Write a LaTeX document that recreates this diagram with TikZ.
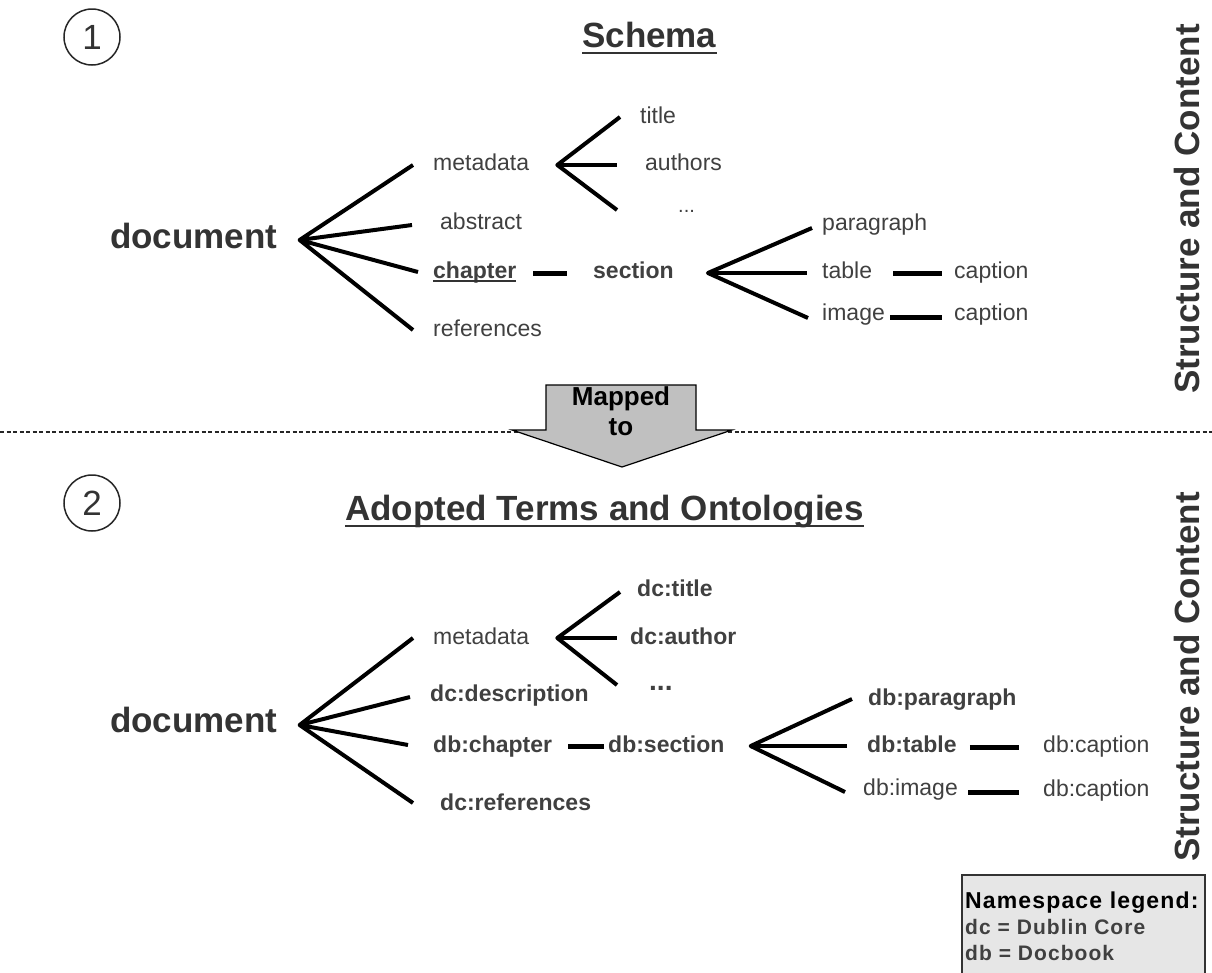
\documentclass[tikz,border=0pt]{standalone}
\usepackage{fontspec}
\setmainfont{Liberation Sans}
\newfontfamily\legendfont[LetterSpace=5]{Liberation Sans}
\usetikzlibrary{calc}
\definecolor{txt}{HTML}{404040}
\definecolor{dark}{HTML}{333333}
\definecolor{arrowgrey}{HTML}{C0C0C0}
\definecolor{legendfill}{HTML}{E6E6E6}

\begin{document}
\begin{tikzpicture}[x=1pt,y=-1pt,
  lbl/.style={font=\fontsize{23}{23}\selectfont, text=txt, inner sep=0pt, anchor=base west},
  blbl/.style={lbl, font=\fontsize{23}{23}\selectfont\bfseries},
  big/.style={font=\fontsize{35}{35}\selectfont\bfseries, text=dark, inner sep=0pt, anchor=base west},
  branch/.style={line width=4pt, black, line join=round},
  link/.style={line width=5pt, black},
  uline/.style={line width=1.8pt, dark},
  numcircle/.style={draw=black!85, line width=1.5pt, circle, minimum size=56pt, inner sep=0pt,
                    font=\fontsize{35}{35}\selectfont, text=dark},
  sidebar/.style={font=\fontsize{35}{35}\selectfont\bfseries, text=dark, rotate=90, inner sep=0pt},
  divider/.style={line width=2pt, black!85, dash pattern=on 4pt off 2.5pt},
  maparrow/.style={fill=arrowgrey, draw=black, line width=1.2pt, line join=miter},
  maptext/.style={font=\fontsize{26}{26}\selectfont\bfseries, text=black, inner sep=0pt, anchor=base},
  legendbox/.style={fill=legendfill, draw=dark, line width=1.5pt},
  leghead/.style={font=\legendfont\fontsize{23}{23}\selectfont\bfseries, text=black, inner sep=0pt, anchor=base west},
  legline/.style={font=\legendfont\fontsize{21}{21}\selectfont\bfseries, text=txt, inner sep=0pt, anchor=base west}
]
\useasboundingbox (0,0) rectangle (1212,972);

% ---------------- upper half: the schema ----------------
\node[numcircle] (n1) at (92,37) {1};
\node[big] (t1) at (582,47) {Schema};
\draw[uline] ([yshift=-6pt]t1.base west) -- ([yshift=-6pt]t1.base east);

\node[big] (doc1) at (110,248) {document};
\node[lbl]  (meta1) at (433,170) {metadata};
\node[lbl]  (abs1)  at (440,229) {abstract};
\node[blbl] (chap1) at (433,278) {chapter};
\node[lbl]  (ref1)  at (433,336) {references};
\draw[uline, line width=1.5pt] ([yshift=-3pt]chap1.base west) -- ([yshift=-3pt]chap1.base east);

\node[lbl] (title1) at (640,123) {title};
\node[lbl] (auth1)  at (645,170) {authors};
\node[lbl, font=\fontsize{20}{20}\selectfont] (more1) at (678,212) {...};

\node[blbl] (sec1) at (593,278) {section};
\node[lbl] (para1) at (822,230) {paragraph};
\node[lbl] (tab1)  at (822,278) {table};
\node[lbl] (img1)  at (822,320) {image};
\node[lbl] (cap1a) at (954,278) {caption};
\node[lbl] (cap1b) at (954,320) {caption};

% document fan
\coordinate (hub1) at ($(doc1.base east)+(22,-8)$);
\draw[branch] ($(meta1.base west)+(-20,-5)$) -- (hub1) -- ($(abs1.base west)+(-28,-4)$);
\draw[branch] ($(chap1.base west)+(-15,-6)$) -- (hub1) -- ($(ref1.base west)+(-20,-6)$);
% metadata fan
\coordinate (mhub1) at ($(meta1.base east)+(28,-5)$);
\draw[branch] ($(title1.base west)+(-20,-6)$) -- (mhub1) -- ($(more1.base west)+(-61,-2)$);
\draw[branch] (mhub1) -- ($(auth1.base west)+(-28,-5)$);
% chapter - section
\draw[link] ($(chap1.base east)+(17,-5)$) -- ($(sec1.base west)+(-26,-5)$);
% section fan
\coordinate (shub1) at ($(sec1.base east)+(34,-5)$);
\draw[branch] ($(para1.base west)+(-10,-2)$) -- (shub1) -- ($(img1.base west)+(-14,-2)$);
\draw[branch] (shub1) -- ($(tab1.base west)+(-15,-5)$);
% captions
\draw[link] ($(tab1.base east)+(21,-5)$) -- ($(cap1a.base west)+(-12,-5)$);
\draw[link] ($(img1.base east)+(5,-3)$) -- ($(cap1b.base west)+(-12,-3)$);

\node[sidebar] (side1) at (1187,209) {Structure and Content};

% ---------------- divider and mapping arrow ----------------
\coordinate (divL) at (0,432);
\coordinate (divR) at (1212,432);
\draw[divider] (divL) -- (divR);
\draw[maparrow] (546,385) -- (696,385) -- (696,430) -- (732,430) -- (622,467)
      -- (512,430) -- (546,430) -- cycle;
\node[maptext] (map1) at (621,405) {Mapped};
\node[maptext] (map2) at (621,435) {to};

% ---------------- lower half: adopted terms ----------------
\node[numcircle] (n2) at (92,503) {2};
\node[big] (t2) at (345,520) {Adopted Terms and Ontologies};
\draw[uline] ([yshift=-6pt]t2.base west) -- ([yshift=-6pt]t2.base east);

\node[big] (doc2) at (110,732) {document};
\node[lbl]  (meta2) at (433,644) {metadata};
\node[blbl] (desc2) at (430,701) {dc:description};
\node[blbl] (chap2) at (433,752) {db:chapter};
\node[blbl] (ref2)  at (440,810) {dc:references};

\node[blbl] (title2) at (637,596) {dc:title};
\node[blbl] (auth2)  at (630,644) {dc:author};
\node[blbl, font=\fontsize{28}{28}\selectfont\bfseries] (more2) at (649,690) {...};

\node[blbl] (sec2)  at (608,752) {db:section};
\node[blbl] (para2) at (868,705) {db:paragraph};
\node[blbl] (tab2)  at (867,752) {db:table};
\node[lbl]  (img2)  at (863,795) {db:image};
\node[lbl]  (cap2a) at (1043,752) {db:caption};
\node[lbl]  (cap2b) at (1043,796) {db:caption};

% document fan
\coordinate (hub2) at ($(doc2.base east)+(22,-7)$);
\draw[branch] ($(meta2.base west)+(-20,-6)$) -- (hub2) -- ($(desc2.base west)+(-20,-4)$);
\draw[branch] ($(chap2.base west)+(-25,-7)$) -- (hub2) -- ($(ref2.base west)+(-27,-7)$);
% metadata fan
\coordinate (mhub2) at ($(meta2.base east)+(28,-6)$);
\draw[branch] ($(title2.base west)+(-17,-4)$) -- (mhub2) -- ($(more2.base west)+(-32,-5)$);
\draw[branch] (mhub2) -- ($(auth2.base west)+(-13,-6)$);
% chapter - section
\draw[link] ($(chap2.base east)+(16,-6)$) -- ($(sec2.base west)+(-4,-6)$);
% section fan
\coordinate (shub2) at ($(sec2.base east)+(26,-6)$);
\draw[branch] ($(para2.base west)+(-16,-6)$) -- (shub2) -- ($(img2.base west)+(-18,-3)$);
\draw[branch] (shub2) -- ($(tab2.base west)+(-20,-6)$);
% captions
\draw[link] ($(tab2.base east)+(13,-5)$) -- ($(cap2a.base west)+(-24,-5)$);
\draw[link] ($(img2.base east)+(10,-3)$) -- ($(cap2b.base west)+(-24,-4)$);

\node[sidebar] (side2) at (1187,677) {Structure and Content};

% ---------------- legend ----------------
\draw[legendbox] (962,875) rectangle (1205,990);
\node[leghead] (leg0) at (965,908) {Namespace legend:};
\node[legline] (leg1) at (965,934) {dc = Dublin Core};
\node[legline] (leg2) at (965,960) {db = Docbook};
\end{tikzpicture}
\end{document}
